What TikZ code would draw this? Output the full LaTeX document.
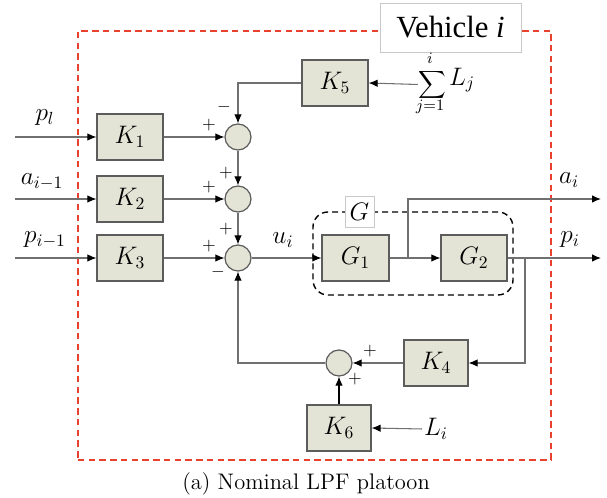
\documentclass[tikz,border=0pt]{standalone}
\usepackage{fontspec}
\usepackage{amsmath}
\usetikzlibrary{positioning,arrows.meta,calc}
\newfontfamily\tms{Liberation Serif}
\definecolor{blockF}{HTML}{E3E4D6}
\definecolor{ink}{HTML}{5C5C5C}
\definecolor{lineC}{HTML}{707070}
\definecolor{redF}{HTML}{E8412E}
\definecolor{tagC}{HTML}{C8C8C8}
\tikzset{
  blk/.style={draw=ink, fill=blockF, line width=0.7pt, minimum width=1.32cm,
              minimum height=0.92cm, inner sep=0pt, font=\fontsize{14}{16}\selectfont},
  sm/.style={circle, draw=ink, fill=blockF, minimum size=5.2mm, inner sep=0pt, line width=0.7pt},
  flow/.style={-{Latex[length=1.8mm,width=1.5mm,color=black]}, line width=0.6pt, draw=lineC},
  sgn/.style={font=\fontsize{10}{10}\selectfont, inner sep=0pt},
  lbl/.style={font=\fontsize{14}{16}\selectfont, inner sep=1pt},
  lim/.style={font=\fontsize{9}{10}\selectfont, inner sep=0pt},
}

\begin{document}
\begin{tikzpicture}
  \useasboundingbox (0,0) rectangle (12.14,9.96);
  % ------------------------------------------------ vehicle frame
  \node[draw=redF, line width=1.1pt, dash pattern=on 1.3mm off 0.85mm,
        minimum width=9.46cm, minimum height=8.58cm] (frm) at (6.29,5.05) {};
  \node[draw=tagC, fill=white, minimum width=2.82cm, minimum height=0.98cm,
        font=\tms\fontsize{17.5}{20}\selectfont] (veh) at (9.01,9.41) {Vehicle \textit{i}};

  % ------------------------------------------------ gains and sums
  \node[blk] (K1) at (2.60,7.22) {$K_1$};
  \node[blk] (K2) at (2.60,5.98) {$K_2$};
  \node[blk] (K3) at (2.60,4.80) {$K_3$};
  \node[blk] (K5) at (6.70,8.30) {$K_5$};
  \node[sm] (s1) at (4.76,7.22) {};
  \node[sm] (s2) at (4.76,5.98) {};
  \node[sm] (s3) at (4.76,4.80) {};

  \coordinate (in1) at (0.30,7.22);
  \coordinate (in2) at (0.30,5.98);
  \coordinate (in3) at (0.30,4.80);
  \node[lbl] (pl) at (0.90,7.60) {$p_l$};
  \node[lbl] (am) at (0.84,6.32) {$a_{i-1}$};
  \node[lbl] (pm) at (0.90,5.16) {$p_{i-1}$};

  \foreach \k in {1,2,3} {
    \draw[flow] (in\k) -- (K\k);
    \draw[flow] (K\k) -- (s\k);
  }

  % sum of the loads, written in pieces
  \node[font=\fontsize{10.5}{12}\selectfont, inner sep=0pt] (sig) at (8.64,8.27) {$\displaystyle\sum$};
  \node[lim] (supI) at (8.60,8.79) {$i$};
  \node[lim] (subJ) at (8.60,7.82) {$j{=}1$};
  \node[lbl] (Lj) at (9.24,8.36) {$L_j$};
  \draw[flow] (sig.west) -- (K5.east);
  \draw[flow] (K5.west) -| (s1.north);
  \draw[flow] (s1) -- (s2);
  \draw[flow] (s2) -- (s3);

  \node[sgn] (m1) at (4.48,7.82) {$-$};
  \node[sgn] (p1) at (4.18,7.46) {$+$};
  \node[sgn] (p2) at (4.18,6.22) {$+$};
  \node[sgn] (p2b) at (4.52,6.50) {$+$};
  \node[sgn] (p3) at (4.18,5.04) {$+$};
  \node[sgn] (p3b) at (4.52,5.38) {$+$};
  \node[sgn] (m3) at (4.36,4.52) {$-$};

  % ------------------------------------------------ plant G
  \node[draw, line width=0.8pt, dash pattern=on 1.2mm off 0.8mm, rounded corners=0.3cm,
        minimum width=4cm, minimum height=1.66cm] (Gbox) at (8.26,4.89) {};
  \node[lbl, draw=tagC, fill=white, minimum width=0.58cm, minimum height=0.62cm] (Gt) at (7.19,5.73) {$G$};
  \node[blk, minimum width=1.34cm] (G1) at (7.11,4.80) {$G_1$};
  \node[blk] (G2) at (9.48,4.80) {$G_2$};

  \node[lbl] (ui) at (5.66,5.16) {$u_i$};
  \draw[flow] (s3) -- (G1);
  \draw[flow] (G1) -- (G2);

  \coordinate (br1) at (8.16,4.80);
  \coordinate (aout) at (12.02,5.98);
  \coordinate (pout) at (12.02,4.80);
  \coordinate (br2) at (10.50,4.80);
  \draw[flow] (br1) |- (aout);
  \draw[flow] (G2) -- (pout);
  \node[lbl] (ai) at (11.38,6.36) {$a_i$};
  \node[lbl] (pi) at (11.40,5.16) {$p_i$};

  % ------------------------------------------------ feedback
  \node[blk, minimum width=1.28cm] (K4) at (8.72,2.70) {$K_4$};
  \node[sm] (s4) at (6.78,2.70) {};
  \node[blk, minimum width=1.28cm] (K6) at (6.78,1.40) {$K_6$};
  \node[lbl] (Li) at (8.72,1.38) {$L_i$};

  \draw[flow] (br2) |- (K4);
  \draw[flow] (K4) -- (s4);
  \draw[flow] (s4) -| (s3.south);
  \draw[flow, draw=black] (K6) -- (s4);
  \draw[flow] (Li.west) -- (K6.east);

  \node[sgn] (p4) at (7.40,2.94) {$+$};
  \node[sgn] (p4b) at (7.10,2.38) {$+$};

  \node[font=\fontsize{12.8}{15}\selectfont] (cap) at (6.12,0.28) {(a) Nominal LPF platoon};
\end{tikzpicture}
\end{document}
